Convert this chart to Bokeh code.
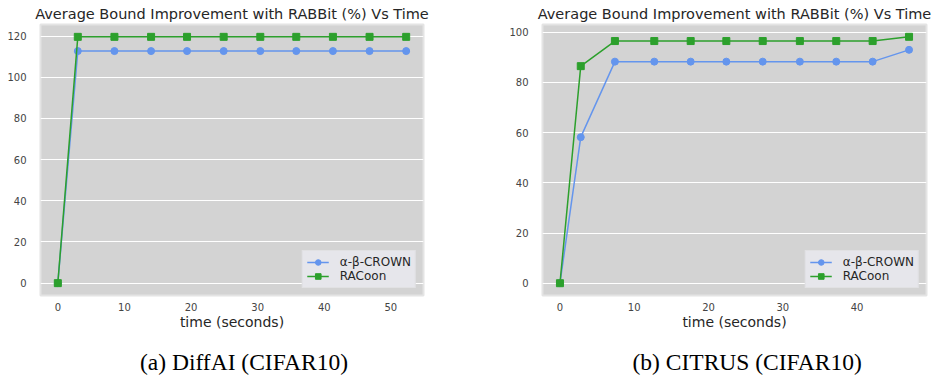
from bokeh.plotting import figure
from bokeh.layouts import row
from bokeh.models import Legend, LegendItem, Title, Range1d, FixedTicker
from bokeh.embed import file_html
from bokeh.resources import INLINE

# ---- data ----
a_time = [0, 3.0, 8.5, 14.0, 19.4, 24.9, 30.4, 35.8, 41.3, 46.8, 52.3]
a_crown = [0, 112.7, 112.7, 112.7, 112.7, 112.7, 112.7, 112.7, 112.7, 112.7, 112.7]
a_racoon = [0, 119.6, 119.6, 119.6, 119.6, 119.6, 119.6, 119.6, 119.6, 119.6, 119.6]

b_time = [0, 2.8, 7.4, 12.7, 17.6, 22.4, 27.3, 32.3, 37.2, 42.1, 47.0]
b_crown = [0, 58.2, 88.3, 88.3, 88.3, 88.3, 88.3, 88.3, 88.3, 88.3, 93.0]
b_racoon = [0, 86.5, 96.5, 96.5, 96.5, 96.5, 96.5, 96.5, 96.5, 96.5, 98.2]

title_text = "Average Bound Improvement with RABBit (%) Vs Time"
series_names = ["α-β-CROWN", "RACoon"]
captions = ["(a) DiffAI (CIFAR10)", "(b) CITRUS (CIFAR10)"]
a_xticks = [0, 10, 20, 30, 40, 50]
a_yticks = [0, 20, 40, 60, 80, 100, 120]
b_xticks = [0, 10, 20, 30, 40]
b_yticks = [0, 20, 40, 60, 80, 100]

BLUE = "#6495ED"
GREEN = "#2ca02c"
FONT = "DejaVu Sans"


def panel(time, crown, racoon, xr, yr, xticks, yticks, caption, cap_off,
          left, fw, right):
    p = figure(frame_width=fw, frame_height=271,
               min_border_left=left, min_border_right=right,
               min_border_top=24, min_border_bottom=84,
               x_range=Range1d(*xr), y_range=Range1d(*yr),
               output_backend="svg", toolbar_location=None,
               background_fill_color="#d3d3d3", border_fill_color="white")
    p.outline_line_color = "#e4e4e4"
    p.outline_line_width = 2

    p.title.text = title_text
    p.title.align = "center"
    p.title.text_font = FONT
    p.title.text_font_size = "14.5px"
    p.title.text_font_style = "normal"
    p.title.text_color = "#262626"
    p.title.standoff = 6

    p.xgrid.grid_line_color = None
    p.ygrid.grid_line_color = "white"
    p.ygrid.grid_line_width = 1.2

    p.xaxis.ticker = FixedTicker(ticks=xticks)
    p.yaxis.ticker = FixedTicker(ticks=yticks)
    for ax in (p.xaxis[0], p.yaxis[0]):
        ax.axis_line_color = None
        ax.major_tick_line_color = None
        ax.minor_tick_line_color = None
        ax.major_label_text_font = FONT
        ax.major_label_text_font_size = "10px"
        ax.major_label_text_color = "#444444"
    p.xaxis.major_label_standoff = 1
    p.yaxis.major_label_standoff = 8
    p.xaxis.axis_label = "time (seconds)"
    p.xaxis.axis_label_text_font = FONT
    p.xaxis.axis_label_text_font_size = "14px"
    p.xaxis.axis_label_text_font_style = "normal"
    p.xaxis.axis_label_text_color = "#262626"
    p.xaxis.axis_label_standoff = 0

    l1 = p.line(time, crown, color=BLUE, line_width=1.5)
    s1 = p.scatter(time, crown, marker="circle", size=7, color=BLUE)
    l2 = p.line(time, racoon, color=GREEN, line_width=1.5)
    s2 = p.scatter(time, racoon, marker="square", size=7, color=GREEN)

    legend = Legend(items=[LegendItem(label=series_names[0], renderers=[l1, s1]),
                           LegendItem(label=series_names[1], renderers=[l2, s2])],
                    location="bottom_right")
    legend.background_fill_color = "#e6e6eb"
    legend.background_fill_alpha = 1.0
    legend.border_line_color = "#dcdcdc"
    legend.label_text_font = FONT
    legend.label_text_font_size = "12px"
    legend.label_text_color = "#262626"
    legend.glyph_width = 22
    legend.glyph_height = 14
    legend.label_standoff = 11
    legend.spacing = 0
    legend.padding = 4
    legend.margin = 7
    p.add_layout(legend, "center")

    cap = Title(text=caption, align="left", offset=cap_off,
                text_font="Liberation Serif", text_font_size="23.5px",
                text_font_style="normal", text_color="black", standoff=28)
    p.add_layout(cap, "below")
    return p


p1 = panel(a_time, a_crown, a_racoon, (-2.6, 54.9), (-6.0, 125.6),
           a_xticks, a_yticks, captions[0], 99.5, 40, 383, 43)
p2 = panel(b_time, b_crown, b_racoon, (-2.35, 49.35), (-4.9, 103.1),
           b_xticks, b_yticks, captions[1], 90, 76, 384, 7)

layout = row(p1, p2, spacing=0)
open("out.html", "w").write(file_html(layout, INLINE))
